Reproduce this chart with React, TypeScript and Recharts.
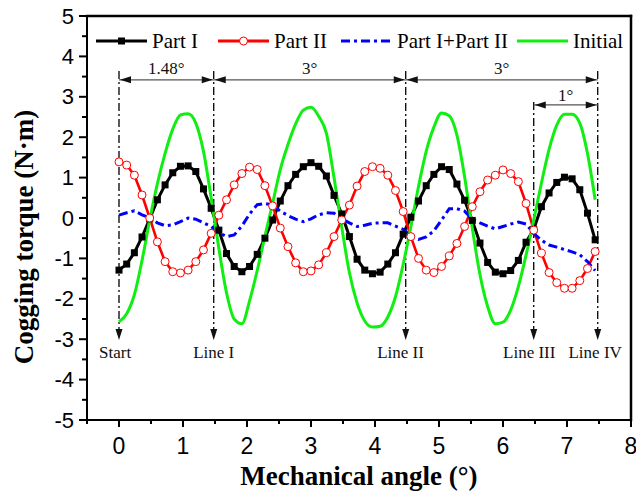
import React from 'react'
import { LineChart, Line, XAxis, YAxis, ReferenceLine, ReferenceDot, Legend } from 'recharts'

// sample angles (°)
const angles = [
  0, 0.12, 0.24, 0.36, 0.48, 0.6, 0.72, 0.84, 0.96, 1.08, 1.2, 1.32, 1.44, 1.56, 1.68, 1.8,
  1.92, 2.04, 2.16, 2.28, 2.4, 2.52, 2.64, 2.76, 2.88, 3.0, 3.12, 3.24, 3.36, 3.48, 3.6, 3.72,
  3.84, 3.96, 4.08, 4.2, 4.32, 4.44, 4.56, 4.68, 4.8, 4.92, 5.04, 5.16, 5.28, 5.4, 5.52, 5.64,
  5.76, 5.88, 6.0, 6.12, 6.24, 6.36, 6.48, 6.6, 6.72, 6.84, 6.96, 7.08, 7.2, 7.32, 7.44,
]

// cogging torque (N·m)
const partI = [
  -1.29, -1.14, -0.86, -0.47, -0.02, 0.45, 0.82, 1.12, 1.28, 1.29, 1.15, 0.72, 0.24, -0.3, -0.88, -1.2,
  -1.33, -1.2, -0.9, -0.5, -0.05, 0.42, 0.8, 1.08, 1.27, 1.37, 1.28, 1.04, 0.56, 0.1, -0.46, -1.02,
  -1.29, -1.38, -1.34, -1.14, -0.86, -0.4, 0.02, 0.42, 0.8, 1.08, 1.27, 1.2, 0.84, 0.44, -0.06, -0.62,
  -1.1, -1.34, -1.38, -1.3, -1.05, -0.6, -0.28, 0.28, 0.62, 0.88, 1.01, 0.97, 0.7, 0.12, -0.54,
]

const partII = [
  1.39, 1.31, 1.06, 0.57, 0.0, -0.59, -1.08, -1.33, -1.36, -1.29, -1.08, -0.79, -0.38, 0.07, 0.45, 0.82,
  1.1, 1.26, 1.2, 0.8, 0.3, -0.25, -0.71, -1.11, -1.33, -1.31, -1.16, -0.86, -0.46, -0.05, 0.32, 0.79,
  1.15, 1.27, 1.23, 1.06, 0.68, 0.16, -0.46, -1.0, -1.29, -1.35, -1.2, -0.94, -0.63, -0.21, 0.28, 0.65,
  0.94, 1.06, 1.19, 1.1, 0.9, 0.36, -0.3, -0.87, -1.35, -1.6, -1.74, -1.74, -1.55, -1.25, -0.83,
]

const partSum = [
  0.07, 0.13, 0.18, 0.08, 0.0, -0.12, -0.19, -0.17, -0.09, 0.0, -0.03, -0.12, -0.21, -0.36, -0.46, -0.42,
  -0.2, 0.1, 0.33, 0.36, 0.32, 0.17, 0.06, -0.03, -0.09, -0.02, 0.08, 0.13, 0.12, -0.02, -0.12, -0.21,
  -0.18, -0.13, -0.12, -0.12, -0.2, -0.28, -0.44, -0.53, -0.47, -0.32, -0.05, 0.23, 0.23, 0.17, -0.03, -0.12,
  -0.2, -0.27, -0.21, -0.15, -0.1, -0.15, -0.38, -0.55, -0.67, -0.72, -0.78, -0.84, -0.91, -1.08, -1.3,
]

const initial = [
  -2.57, -2.37, -1.9, -1.05, -0.05, 0.85, 1.6, 2.2, 2.55, 2.58, 2.35, 1.65, 0.5, -0.75, -1.85, -2.5,
  -2.62, -2.05, -1.3, -0.45, 0.36, 1.2, 1.82, 2.33, 2.67, 2.74, 2.52, 2.1, 1.0, -0.22, -1.35, -2.1,
  -2.55, -2.7, -2.68, -2.45, -1.95, -1.15, -0.22, 0.78, 1.65, 2.25, 2.6, 2.53, 2.05, 1.02, -0.25, -1.4,
  -2.19, -2.62, -2.58, -2.28, -1.7, -0.92, -0.05, 0.86, 1.7, 2.3, 2.57, 2.57, 2.35, 1.6, 0.45,
]

const xTicks = [-0.5, 0, 0.5, 1, 1.5, 2, 2.5, 3, 3.5, 4, 4.5, 5, 5.5, 6, 6.5, 7, 7.5, 8]
const yTicks = [
  -5, -4.5, -4, -3.5, -3, -2.5, -2, -1.5, -1, -0.5, 0, 0.5, 1, 1.5, 2, 2.5, 3, 3.5, 4, 4.5, 5,
]

// dash-dot marker lines: angle and top end
const markerLines = [
  { x: 0, top: 3.64 },
  { x: 1.48, top: 3.64 },
  { x: 4.48, top: 3.64 },
  { x: 6.48, top: 2.87 },
  { x: 7.48, top: 3.64 },
]
const arrowTip = -3.02

const lineLabels = [
  { text: 'Start', x: -0.06 },
  { text: 'Line I', x: 1.48 },
  { text: 'Line II', x: 4.4 },
  { text: 'Line III', x: 6.41 },
  { text: 'Line IV', x: 7.44 },
]
const lineLabelY = -3.32

// dimension arrows between marker lines
const spans = [
  { from: 0, to: 1.48, y: 3.42, text: '1.48°', textY: 3.69 },
  { from: 1.48, to: 4.48, y: 3.42, text: '3°', textY: 3.69 },
  { from: 4.48, to: 7.48, y: 3.42, text: '3°', textY: 3.69 },
  { from: 6.48, to: 7.48, y: 2.8, text: '1°', textY: 3.02 },
]

const data = angles.map((angle, i) => ({
  angle,
  partI: partI[i],
  partII: partII[i],
  partSum: partSum[i],
  initial: initial[i],
}))

const SERIF = '"Liberation Serif", "Times New Roman", serif'
const SANS = '"Liberation Sans", Arial, sans-serif'

const legendLeft: Record<string, number> = { partI: 96, partII: 218, partSum: 341, initial: 517 }

const renderXTick = (props: any) => {
  const { x, y, payload } = props
  const major = Number.isInteger(payload.value)
  return (
    <g>
      <line x1={x} y1={y} x2={x} y2={y + (major ? 7 : 4)} stroke="#000" strokeWidth={2} />
      {major && (
        <text x={x} y={y + 34} textAnchor="middle" fontFamily={SANS} fontSize={23} fill="#000">
          {payload.value}
        </text>
      )}
    </g>
  )
}

const renderYTick = (props: any) => {
  const { x, y, payload } = props
  const major = Number.isInteger(payload.value)
  return (
    <g>
      <line x1={x} y1={y} x2={x - (major ? 8 : 5)} y2={y} stroke="#000" strokeWidth={2} />
      {major && (
        <text x={x - 13} y={y} textAnchor="end" dominantBaseline="central" fontFamily={SANS} fontSize={22} fill="#000">
          {payload.value}
        </text>
      )}
    </g>
  )
}

const renderXTitle = (props: any) => {
  const vb = props.viewBox
  return (
    <text x={vb.x + vb.width / 2} y={vb.y + 65} textAnchor="middle" fontFamily={SERIF} fontWeight="bold" fontSize={27} fill="#000">
      Mechanical angle (°)
    </text>
  )
}

const renderYTitle = (props: any) => {
  const vb = props.viewBox
  const cx = vb.x + 24
  const cy = vb.y + vb.height / 2 + 19
  return (
    <text
      x={cx}
      y={cy}
      transform={`rotate(-90, ${cx}, ${cy})`}
      textAnchor="middle"
      dominantBaseline="central"
      fontFamily={SERIF}
      fontWeight="bold"
      fontSize={27}
      fill="#000"
    >
      Cogging torque (N·m)
    </text>
  )
}

const squareDot = (p: any) => (
  <rect key={`sq-${p.index}`} x={p.cx - 3.5} y={p.cy - 3.5} width={7} height={7} fill="#000" />
)

const circleDot = (p: any) => (
  <circle key={`ci-${p.index}`} cx={p.cx} cy={p.cy} r={4} fill="#fff" stroke="#ff0000" strokeWidth={1} />
)

const ArrowHead = ({ cx, cy, dir }: { cx: number; cy: number; dir: 'left' | 'right' | 'down' }) => {
  let pts = ''
  if (dir === 'left') pts = `${cx},${cy} ${cx + 11},${cy - 3.5} ${cx + 11},${cy + 3.5}`
  if (dir === 'right') pts = `${cx},${cy} ${cx - 11},${cy - 3.5} ${cx - 11},${cy + 3.5}`
  if (dir === 'down') pts = `${cx},${cy} ${cx - 3.5},${cy - 11} ${cx + 3.5},${cy - 11}`
  return <polygon points={pts} fill="#111" />
}

const TextMark = ({ cx, cy, text, size }: { cx: number; cy: number; text: string; size: number }) => (
  <text x={cx} y={cy} textAnchor="middle" dominantBaseline="central" fontFamily={SERIF} fontSize={size} fill="#111">
    {text}
  </text>
)

// frame edge drawn as a reference line shape
const FrameEdge = (p: any) => (
  <line x1={p.x1} y1={p.y1} x2={p.x2} y2={p.y2} stroke="#000" strokeWidth={2.5} strokeLinecap="square" />
)

const LegendIcon = ({ dataKey, color }: { dataKey: string; color: string }) => (
  <svg width={51} height={14} style={{ display: 'block' }}>
    <line
      x1={0}
      y1={7}
      x2={51}
      y2={7}
      stroke={color}
      strokeWidth={3}
      strokeDasharray={dataKey === 'partSum' ? '9 4 3 4' : undefined}
    />
    {dataKey === 'partI' && <rect x={22} y={3.5} width={7} height={7} fill="#000" />}
    {dataKey === 'partII' && <circle cx={25.5} cy={7} r={4} fill="#fff" stroke="#ff0000" strokeWidth={1} />}
  </svg>
)

const renderLegend = (props: any) => (
  <div style={{ position: 'relative', width: 636, height: 26 }}>
    {(props.payload || []).map((entry: any) => (
      <div
        key={entry.dataKey}
        style={{
          position: 'absolute',
          left: legendLeft[entry.dataKey],
          top: 0,
          height: 26,
          display: 'flex',
          alignItems: 'center',
          fontFamily: SERIF,
          fontSize: 21,
          color: '#000',
          whiteSpace: 'nowrap',
        }}
      >
        <LegendIcon dataKey={entry.dataKey} color={entry.color} />
        <span style={{ marginLeft: 5 }}>{entry.value}</span>
      </div>
    ))}
  </div>
)

export default function App() {
  return (
    <div style={{ position: 'absolute', left: 0, top: 0, width: 636, height: 494, background: '#fff' }}>
      <LineChart width={636} height={494} data={data} margin={{ top: 16, right: 5, bottom: 14, left: 0 }}>
        <XAxis
          dataKey="angle"
          type="number"
          domain={[-0.5, 8]}
          ticks={xTicks}
          interval={0}
          height={60}
          tickSize={0}
          tickMargin={0}
          tickLine={false}
          tick={renderXTick}
          axisLine={{ stroke: '#000', strokeWidth: 2 }}
          label={renderXTitle}
          allowDataOverflow
        />
        <YAxis
          type="number"
          domain={[-5, 5]}
          ticks={yTicks}
          interval={0}
          width={87}
          tickSize={0}
          tickMargin={0}
          tickLine={false}
          tick={renderYTick}
          axisLine={{ stroke: '#000', strokeWidth: 2 }}
          label={renderYTitle}
          allowDataOverflow
        />

        {/* top and right frame edges */}
        <ReferenceLine
          segment={[
            { x: -0.5, y: 5 },
            { x: 8, y: 5 },
          ]}
          ifOverflow="visible"
          shape={FrameEdge}
        />
        <ReferenceLine
          segment={[
            { x: 8, y: -5 },
            { x: 8, y: 5 },
          ]}
          ifOverflow="visible"
          shape={FrameEdge}
        />

        {markerLines.map((m) => (
          <ReferenceLine
            key={`ml-${m.x}`}
            segment={[
              { x: m.x, y: m.top },
              { x: m.x, y: arrowTip + 0.15 },
            ]}
            stroke="#000"
            strokeWidth={1.3}
            strokeDasharray="8 3 2 3"
          />
        ))}
        {markerLines.map((m) => (
          <ReferenceDot
            key={`ma-${m.x}`}
            x={m.x}
            y={arrowTip}
            shape={(p: any) => <ArrowHead cx={p.cx} cy={p.cy} dir="down" />}
          />
        ))}
        {spans.map((s, i) => (
          <ReferenceLine
            key={`sp-${i}`}
            segment={[
              { x: s.from, y: s.y },
              { x: s.to, y: s.y },
            ]}
            stroke="#555"
            strokeWidth={1.2}
          />
        ))}
        {spans.map((s, i) => (
          <ReferenceDot
            key={`sl-${i}`}
            x={s.from}
            y={s.y}
            shape={(p: any) => <ArrowHead cx={p.cx + 1} cy={p.cy} dir="left" />}
          />
        ))}
        {spans.map((s, i) => (
          <ReferenceDot
            key={`sr-${i}`}
            x={s.to}
            y={s.y}
            shape={(p: any) => <ArrowHead cx={p.cx - 1} cy={p.cy} dir="right" />}
          />
        ))}
        {spans.map((s, i) => (
          <ReferenceDot
            key={`st-${i}`}
            x={(s.from + s.to) / 2}
            y={s.textY}
            shape={(p: any) => <TextMark cx={p.cx} cy={p.cy} text={s.text} size={17} />}
          />
        ))}
        {lineLabels.map((l) => (
          <ReferenceDot
            key={`ll-${l.text}`}
            x={l.x}
            y={lineLabelY}
            shape={(p: any) => <TextMark cx={p.cx} cy={p.cy} text={l.text} size={17} />}
          />
        ))}

        <Legend
          layout="horizontal"
          verticalAlign="middle"
          align="center"
          content={renderLegend}
          wrapperStyle={{ top: 28, left: 0, width: 636, height: 26 }}
        />

        <Line
          dataKey="partI"
          name="Part I"
          type="linear"
          stroke="#000"
          strokeWidth={3}
          dot={squareDot}
          activeDot={false}
          isAnimationActive={false}
        />
        <Line
          dataKey="partII"
          name="Part II"
          type="linear"
          stroke="#ff0000"
          strokeWidth={2.6}
          dot={circleDot}
          activeDot={false}
          isAnimationActive={false}
        />
        <Line
          dataKey="partSum"
          name="Part I+Part II"
          type="linear"
          stroke="#0000ff"
          strokeWidth={3}
          strokeDasharray="9 4 3 4"
          dot={false}
          activeDot={false}
          isAnimationActive={false}
        />
        <Line
          dataKey="initial"
          name="Initial"
          type="monotone"
          stroke="#11ee11"
          strokeWidth={3}
          dot={false}
          activeDot={false}
          isAnimationActive={false}
        />
      </LineChart>
    </div>
  )
}
